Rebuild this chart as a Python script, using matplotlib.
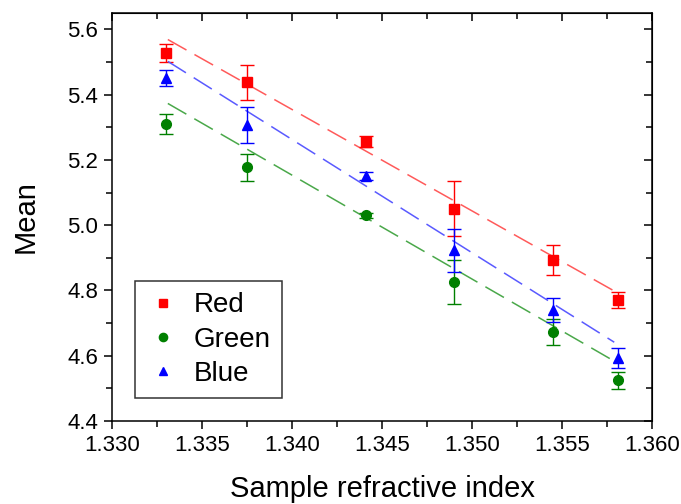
import matplotlib
matplotlib.use("Agg")
import matplotlib.pyplot as plt
from matplotlib.ticker import MultipleLocator

plt.rcParams["font.family"] = ["Liberation Sans", "DejaVu Sans"]

# refractive index of each sample
n_index = [1.3330, 1.3375, 1.3441, 1.3490, 1.3545, 1.3581]

red_mean = [5.527, 5.438, 5.256, 5.050, 4.893, 4.770]
red_err = [0.028, 0.054, 0.017, 0.084, 0.046, 0.025]
green_mean = [5.309, 5.177, 5.030, 4.825, 4.672, 4.525]
green_err = [0.031, 0.041, 0.008, 0.067, 0.041, 0.026]
blue_mean = [5.451, 5.306, 5.150, 4.923, 4.739, 4.592]
blue_err = [0.025, 0.055, 0.012, 0.066, 0.037, 0.031]

# fitted lines (start / end)
fit_x = [1.3331, 1.3579]
red_fit = [5.569, 4.798]
green_fit = [5.373, 4.583]
blue_fit = [5.502, 4.641]

series = [
    ("Red", red_mean, red_err, red_fit, "#ff0000", "#ff5a5a", "s", 6.5),
    ("Green", green_mean, green_err, green_fit, "#008000", "#4aa84a", "o", 7),
    ("Blue", blue_mean, blue_err, blue_fit, "#0000ff", "#5a5aff", "^", 7.5),
]

fig = plt.figure(figsize=(6.81, 5.04), dpi=100)
ax = fig.add_axes([0.1645, 0.165, 0.793, 0.809])

for name, m, e, f, col, lcol, mk, ms in series:
    ax.plot(fit_x, f, color=lcol, lw=1.1, dashes=(14, 6))
    ax.errorbar(n_index, m, yerr=e, fmt="none", ecolor=col, elinewidth=1,
                capsize=5, capthick=1)
    ax.plot(n_index, m, ls="none", marker=mk, ms=ms, color=col, label=name)

ax.set_xlim(1.330, 1.360)
ax.set_ylim(4.4, 5.65)
ax.xaxis.set_major_locator(MultipleLocator(0.005))
ax.xaxis.set_minor_locator(MultipleLocator(0.0025))
ax.yaxis.set_major_locator(MultipleLocator(0.2))
ax.yaxis.set_minor_locator(MultipleLocator(0.1))
ax.xaxis.set_major_formatter(plt.FormatStrFormatter("%.3f"))
ax.yaxis.set_major_formatter(plt.FormatStrFormatter("%.1f"))

ax.tick_params(which="major", direction="out", length=6, width=1.1,
               labelsize=16, pad=4)
ax.tick_params(which="minor", direction="out", length=4, width=1.1)
for s in ax.spines.values():
    s.set_linewidth(1.1)

# mirrored inward ticks on top and right
top = ax.secondary_xaxis("top")
top.xaxis.set_major_locator(MultipleLocator(0.005))
top.xaxis.set_minor_locator(MultipleLocator(0.0025))
top.tick_params(which="both", direction="in", labeltop=False, width=1.1)
top.tick_params(which="major", length=6)
top.tick_params(which="minor", length=4)
right = ax.secondary_yaxis("right")
right.yaxis.set_major_locator(MultipleLocator(0.2))
right.yaxis.set_minor_locator(MultipleLocator(0.1))
right.tick_params(which="both", direction="in", labelright=False, width=1.1)
right.tick_params(which="major", length=6)
right.tick_params(which="minor", length=4)

ax.set_xlabel("Sample refractive index", fontsize=21, labelpad=14)
ax.set_ylabel("Mean", fontsize=21, labelpad=20)

leg = ax.legend(loc="lower left", bbox_to_anchor=(0.043, 0.056),
                borderaxespad=0, fontsize=20, frameon=True, fancybox=False,
                handlelength=1.2, handletextpad=0.5, labelspacing=0.3,
                borderpad=0.4, markerscale=0.85)
leg.get_frame().set_edgecolor("black")
leg.get_frame().set_linewidth(1.1)

fig.savefig("out.png", dpi=100)
